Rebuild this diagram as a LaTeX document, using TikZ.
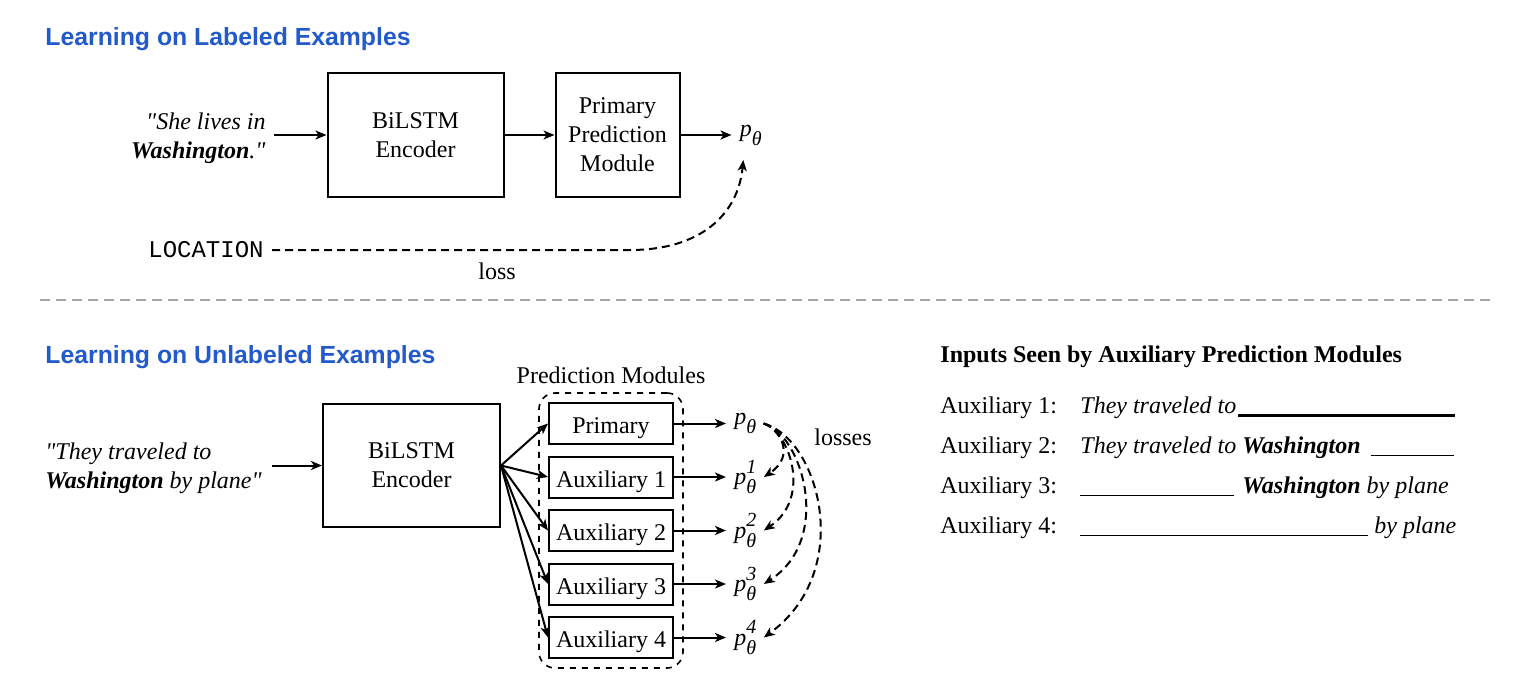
\documentclass[tikz,border=0pt,12pt]{standalone}
\usepackage{fontspec}
\setmainfont{Liberation Serif}
\newfontfamily\headfont{Liberation Sans}
\newfontfamily\codefont{Liberation Mono}
\usepackage{tikz}
\usetikzlibrary{arrows, arrows.meta, positioning, fit}
\definecolor{headblue}{RGB}{34,90,204}
\newcommand{\pth}[1]{$\textit{p}^{\raisebox{1.5pt}{\footnotesize\itshape #1}}_{\raisebox{-1.5pt}{\footnotesize\itshape θ}}$}

\begin{document}
\begin{tikzpicture}[x=0.5pt, y=-0.5pt,
        node distance=25pt,
        >={Stealth[length=5.5pt, width=4.5pt, inset=1.5pt]},
        heading/.style={anchor=west, font=\headfont\bfseries\fontsize{12.4}{15}\selectfont, text=headblue},
        box/.style={rectangle, draw=black, line width=1pt, align=center, minimum width=88pt, minimum height=62pt},
        modbox/.style={rectangle, draw=black, line width=1pt, align=center, minimum width=62pt, minimum height=20.5pt, inner sep=1pt, text height=10pt, text depth=0pt},
        arrow/.style={->, line width=1pt},
        lossarrow/.style={->, line width=1pt, dash pattern=on 4pt off 2.5pt},
        row/.style={anchor=base west, inner sep=0pt}
    ]
        \useasboundingbox (0,0) rectangle (1518,680);

        % Labeled examples
        \node[heading] (titleA) at (37,39) {Learning on Labeled Examples};
        \node[box] (encA) at (415.5,135) {BiLSTM\\Encoder};
        \node[box, minimum width=62pt, right=25pt of encA] (primA) {Primary\\Prediction\\Module};
        \node[right=25.5pt of primA] (pA) {\pth{}};
        \node[align=right, anchor=east] (inA) at (274,138) {\textit{\textquotedbl She lives in}\\\textbf{\textit{Washington}}\textit{.\textquotedbl}};
        \node[anchor=east, font=\codefont] (locA) at (272,250) {LOCATION};
        \node (lossA) at (497,271) {loss};
        \coordinate (bendA) at (630,250);

        \draw[arrow] (inA.east |- encA.west) -- (encA.west);
        \draw[arrow] (encA) -- (primA);
        \draw[arrow] (primA) -- (pA);
        \draw[lossarrow] (locA.east) -- (bendA) .. controls (700,250) and (738,215) .. ([xshift=-4pt,yshift=-3pt]pA.south);

        % separator
        \draw[black!35, line width=0.8pt, dash pattern=on 5pt off 3pt] (40,300) -- (1495,300);

        % Unlabeled examples
        \node[heading] (titleB) at (37,357) {Learning on Unlabeled Examples};
        \node[box, minimum width=88.5pt, minimum height=61.5pt] (encB) at (411.5,465.5) {BiLSTM\\Encoder};
        \node[align=left, anchor=west] (inB) at (37,468) {\textit{\textquotedbl They traveled to}\\\textbf{\textit{Washington}} \textit{by plane\textquotedbl}};
        \coordinate (inBout) at (272,465.5);
        \draw[arrow] (inBout) -- (encB.west);

        \node[modbox] (mod0) at (611,423.5) {Primary};
        \foreach \i [evaluate=\i as \j using int(\i-1)] in {1,...,4}
            \node[modbox, below=5.25pt of mod\j] (mod\i) {Auxiliary \i};
        \node[draw, dashed, rounded corners=8pt, line width=0.8pt, inner sep=4.5pt, fit=(mod0)(mod4)] (group) {};
        \node[above=0pt of group] (grouplabel) {Prediction Modules};

        \node[right=26pt of mod0] (p0) {\pth{}};
        \foreach \i in {1,...,4}
            \node[right=26pt of mod\i] (p\i) {\pth{\i}};

        \foreach \i in {0,...,4} {
            \draw[arrow] (encB.east) -- (mod\i.west);
            \draw[arrow] (mod\i) -- (p\i);
        }

        % losses
        \foreach \i/\a/\b/\c/\d in {1/15/5/33/-22, 2/25/7/49/-33, 3/38/10/70/-45, 4/55/15/92/-67}
            \draw[lossarrow] ([xshift=-1pt]p0.east) .. controls +(\a,\b) and +(\c,\d) .. ([xshift=-1pt]p\i.east);
        \node (losses) at (843,437) {losses};

        % inputs seen by auxiliary modules
        \node[row, font=\bfseries] (inputs) at (940,362) {Inputs Seen by Auxiliary Prediction Modules};
        \foreach \i in {1,...,4}
            \node[row] (lab\i) at (940,373+40*\i) {Auxiliary \i:};
        \node[row] (txt1) at (1080,413) {\textit{They traveled to}\hspace{1pt}\rule[-1.8pt]{108.5pt}{1.3pt}};
        \node[row] (txt2) at (1080,453) {\textit{They traveled to \textbf{Washington}}\hspace{5pt}\rule[-1.5pt]{41.5pt}{0.6pt}};
        \node[row] (txt3) at (1080,493) {\rule[-1.5pt]{77pt}{0.6pt}\hspace{4pt}\textit{\textbf{Washington} by plane}};
        \node[row] (txt4) at (1080,533) {\rule[-1.5pt]{144pt}{0.6pt}\hspace{3pt}\textit{by plane}};

    \end{tikzpicture}
\end{document}
